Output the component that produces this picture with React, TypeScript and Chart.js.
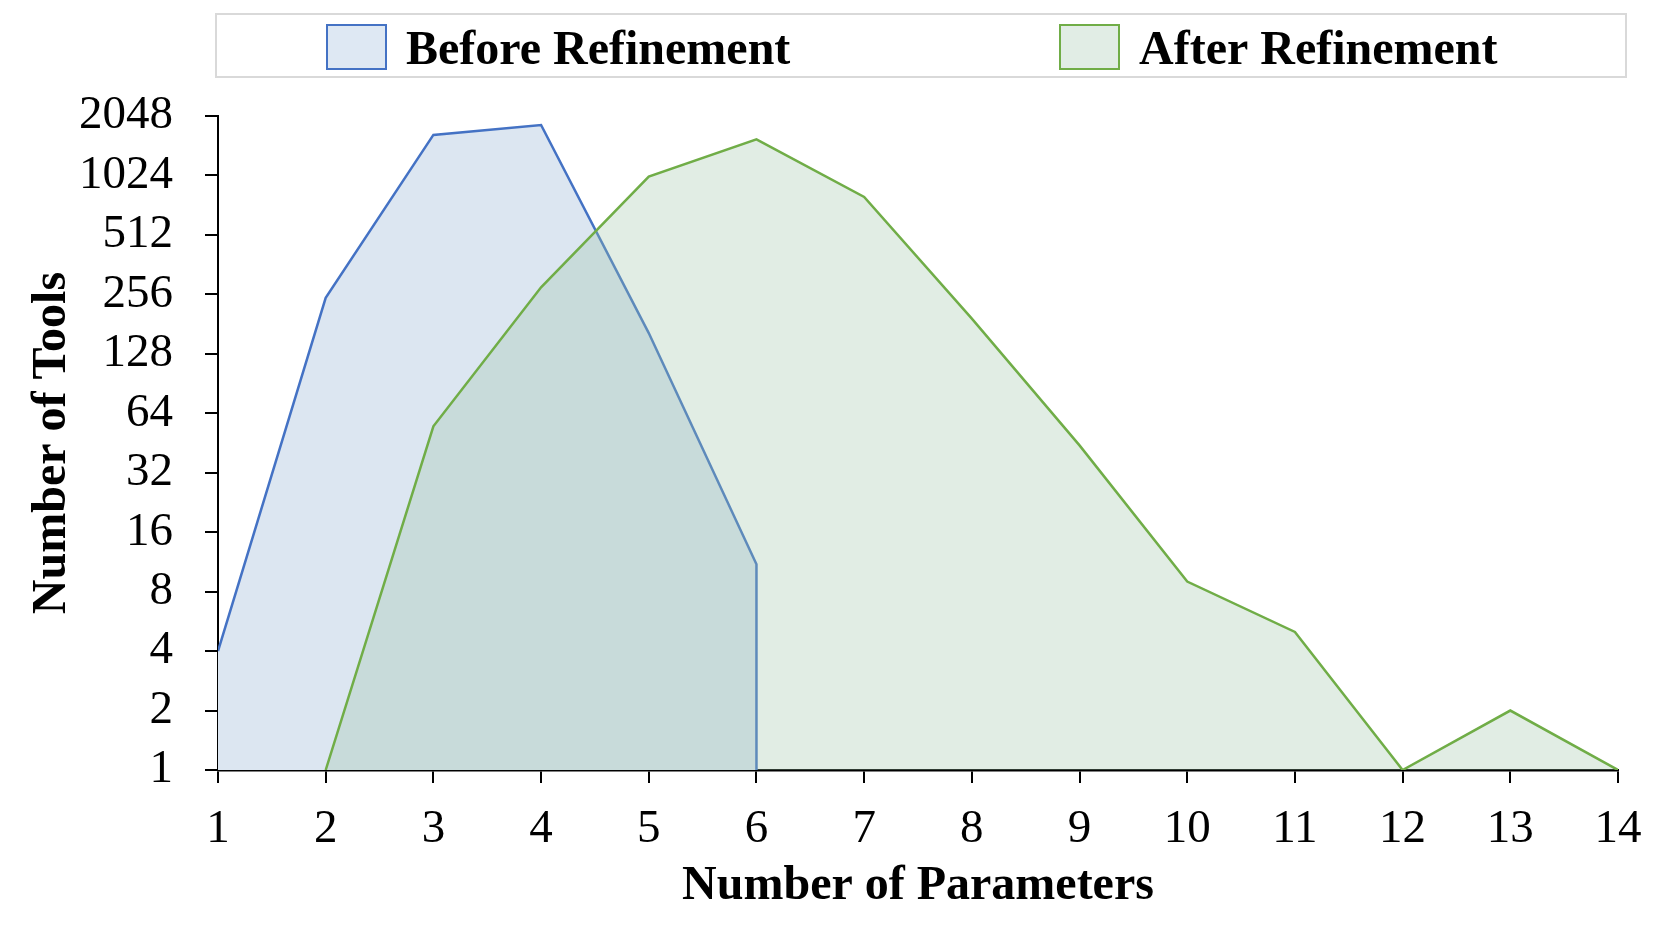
import React, { useEffect, useRef } from "react";
import { Chart, registerables } from "chart.js";

Chart.register(...registerables);

// ---- data ----
const seriesNames = ["Before Refinement", "After Refinement"];
const xTickValues = [1, 2, 3, 4, 5, 6, 7, 8, 9, 10, 11, 12, 13, 14];
const yTickValues = [1, 2, 4, 8, 16, 32, 64, 128, 256, 512, 1024, 2048];
const beforeX = [1, 2, 3, 4, 5, 6, 6];
const beforeValues = [4, 246, 1643, 1845, 163, 11, 1];
const afterX = [2, 3, 4, 5, 6, 7, 8, 9, 10, 11, 12, 13, 14];
const afterValues = [1, 55, 278, 1010, 1561, 797, 193, 44, 9, 5, 1, 2, 1];

const FONT = '"Liberation Serif", "Times New Roman", serif';

const lineColors = ["#4472C4", "#70AD47"];
const fillColors = ["rgb(220,230,241)", "rgba(155,195,165,0.3)"];
const legendFill = ["rgb(222,232,243)", "rgb(225,237,229)"];

const legendPlugin = {
  id: "boxedLegend",
  afterDraw(chart: any) {
    const ctx = chart.ctx as CanvasRenderingContext2D;
    ctx.save();
    ctx.strokeStyle = "#d9d9d9";
    ctx.lineWidth = 2;
    ctx.strokeRect(216, 14, 1410, 63);
    const boxX = [327, 1060];
    const textX = [406, 1139];
    ctx.font = `bold 48px ${FONT}`;
    ctx.textBaseline = "alphabetic";
    ctx.textAlign = "left";
    chart.data.datasets.forEach((ds: any, i: number) => {
      ctx.fillStyle = legendFill[i];
      ctx.fillRect(boxX[i], 25, 59, 44);
      ctx.strokeStyle = lineColors[i];
      ctx.lineWidth = 2;
      ctx.strokeRect(boxX[i], 25, 59, 44);
      ctx.fillStyle = "#000";
      ctx.fillText(ds.label, textX[i], 64);
    });
    ctx.restore();
  },
};

export default function App() {
  const ref = useRef<HTMLCanvasElement | null>(null);

  useEffect(() => {
    if (!ref.current) return;
    const chart = new Chart(ref.current, {
      type: "line",
      data: {
        datasets: [
          {
            label: seriesNames[0],
            data: beforeX.map((x, i) => ({ x, y: beforeValues[i] })),
            borderColor: lineColors[0],
            backgroundColor: fillColors[0],
            borderWidth: 2.5,
            fill: "start",
            pointRadius: 0,
            tension: 0,
            order: 1,
          },
          {
            label: seriesNames[1],
            data: afterX.map((x, i) => ({ x, y: afterValues[i] })),
            borderColor: lineColors[1],
            backgroundColor: fillColors[1],
            borderWidth: 2.5,
            fill: "start",
            pointRadius: 0,
            tension: 0,
            order: 0,
          },
        ],
      },
      options: {
        animation: false,
        responsive: false,
        devicePixelRatio: 1,
        layout: { padding: { left: 0, right: 43, top: 116, bottom: 0 } },
        plugins: {
          legend: { display: false },
          tooltip: { enabled: false },
        },
        scales: {
          x: {
            type: "linear",
            min: 1,
            max: 14,
            afterFit: (s: any) => {
              s.height = 164;
            },
            afterBuildTicks: (s: any) => {
              s.ticks = xTickValues.map((v) => ({ value: v }));
            },
            ticks: {
              color: "#000",
              font: { family: FONT, size: 47 },
              padding: 18,
              maxRotation: 0,
              autoSkip: false,
              callback: (v: any) => String(v),
            },
            grid: {
              display: true,
              drawOnChartArea: false,
              drawTicks: true,
              tickLength: 13,
              color: "#000",
              lineWidth: 2,
            },
            border: { display: true, color: "#000", width: 2.5 },
            title: {
              display: true,
              text: "Number of Parameters",
              color: "#000",
              font: { family: FONT, size: 48, weight: "bold" },
              padding: { top: 0, bottom: 19 },
            },
          },
          y: {
            type: "logarithmic",
            min: 1,
            max: 2048,
            afterFit: (s: any) => {
              s.width = 218;
            },
            afterBuildTicks: (s: any) => {
              s.ticks = yTickValues.map((v) => ({ value: v }));
            },
            ticks: {
              color: "#000",
              font: { family: FONT, size: 47 },
              padding: 32,
              autoSkip: false,
              callback: (v: any) => String(v),
            },
            grid: {
              display: true,
              drawOnChartArea: false,
              drawTicks: true,
              tickLength: 13,
              color: "#000",
              lineWidth: 2,
            },
            border: { display: true, color: "#000", width: 2 },
            title: {
              display: true,
              text: "Number of Tools",
              color: "#000",
              font: { family: FONT, size: 48, weight: "bold" },
              padding: { top: 24, bottom: 0 },
            },
          },
        },
      },
      plugins: [legendPlugin],
    });
    return () => chart.destroy();
  }, []);

  return (
    <div style={{ position: "fixed", left: 0, top: 0, width: 1661, height: 934, background: "#fff" }}>
      <canvas ref={ref} width={1661} height={934} style={{ width: 1661, height: 934, display: "block" }} />
    </div>
  );
}
